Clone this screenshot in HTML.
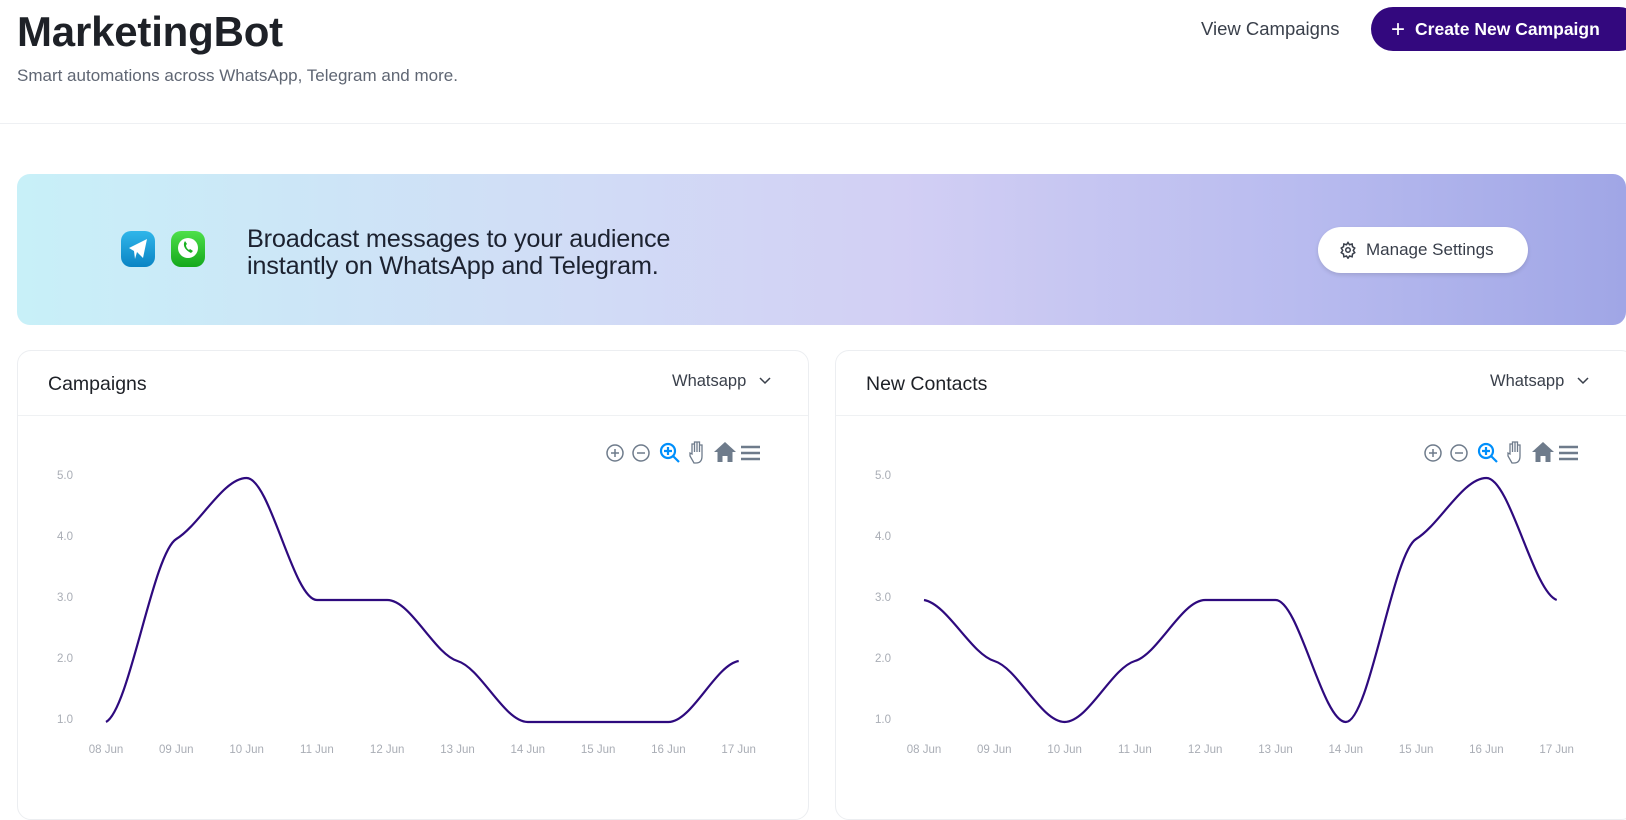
<!DOCTYPE html>
<html><head><meta charset="utf-8">
<style>
*{box-sizing:border-box;margin:0;padding:0}
body{width:1626px;height:801px;overflow:hidden;background:#fff;font-family:"Liberation Sans",sans-serif;position:relative;color:#1f2328}
.abs{position:absolute}
.title{left:17px;top:8px;font-size:42px;font-weight:bold;color:#1e2127;letter-spacing:-0.2px}
.sub{left:17px;top:66px;font-size:17px;color:#5f6673}
.hdr{left:0;top:123px;width:1626px;height:1px;background:#eef0f3}
.view{left:1201px;top:18px;font-size:18.5px;color:#3a404b}
.btn{left:1371px;top:7px;width:270px;height:44px;border-radius:22px;background:#33087e;color:#fff;font-size:17.5px;font-weight:bold;padding-left:20px;line-height:44px}
.banner{left:17px;top:174px;width:1609px;height:151px;border-radius:13px;background:linear-gradient(90deg,#c8f0f8 0%,#d1dcf6 35%,#d2cff4 55%,#b8bbef 80%,#a0a6e6 100%)}
.btext{left:247px;top:226px;font-size:25.3px;line-height:27px;color:#1c2230;letter-spacing:-0.2px}
.ms{left:1318px;top:227px;width:210px;height:46px;border-radius:23px;background:#fff;box-shadow:0 2px 4px rgba(0,0,0,.12);font-size:17px;color:#383e4a;line-height:46px;padding-left:48px}
.card{top:350px;width:792px;height:470px;border:1px solid #eceef1;border-radius:14px;background:#fff}
.card .ct{position:absolute;left:30px;top:22px;font-size:19.5px;color:#1e2127}
.card .dd{position:absolute;left:654px;top:21px;font-size:16.5px;color:#3a404b}
.card .hl{position:absolute;left:0;top:64px;width:100%;height:1px;background:#eff1f3}
</style></head><body>
<div class="abs title">MarketingBot</div>
<div class="abs sub">Smart automations across WhatsApp, Telegram and more.</div>
<div class="abs hdr"></div>
<div class="abs view">View Campaigns</div>
<div class="abs btn"><span style="font-weight:normal;font-size:24px;vertical-align:-2px;margin-right:10px">+</span>Create New Campaign</div>
<div class="abs banner"></div>
<svg class="abs" style="left:119px;top:228px" width="92" height="42">
<defs><linearGradient id="tg" x1="0" y1="0" x2="0" y2="1"><stop offset="0" stop-color="#30b6ea"/><stop offset="1" stop-color="#0a84c4"/></linearGradient>
<linearGradient id="wa" x1="0" y1="0" x2="0" y2="1"><stop offset="0" stop-color="#4ee04a"/><stop offset="1" stop-color="#14a81c"/></linearGradient></defs>
<rect x="2" y="3" width="34" height="36" rx="10" fill="url(#tg)"/>
<path d="M10 20 L28 11 L24 30 L18 24 L16 31 L15 23 Z" fill="#fff"/>
<rect x="52" y="3" width="34" height="36" rx="10" fill="url(#wa)"/>
<circle cx="69" cy="20" r="10" fill="#fff"/>
<path d="M65 15 q-1 6 7 10 l2-2 -3-2 -1 1 q-3-2-3-5 l1-1 -2-3z" fill="#19b020"/>
</svg>
<div class="abs btext">Broadcast messages to your audience<br>instantly on WhatsApp and Telegram.</div>
<div class="abs ms">Manage Settings</div>
<svg class="abs" style="left:1339px;top:241px" width="18" height="18" viewBox="0 0 24 24" fill="none" stroke="#383e4a" stroke-width="2"><circle cx="12" cy="12" r="3"/><path d="M12 2l2 3 3.5-1 .5 3.5 3 2-2 3 2 3-3 2-.5 3.5-3.5-1-2 3-2-3-3.5 1-.5-3.5-3-2 2-3-2-3 3-2 .5-3.5 3.5 1z"/></svg>

<div class="abs card" style="left:17px"><div class="ct">Campaigns</div><div class="dd">Whatsapp</div><div class="hl"></div></div>
<div class="abs card" style="left:835px;width:800px"><div class="ct">New Contacts</div><div class="dd">Whatsapp</div><div class="hl"></div></div>

<svg id="ch" class="abs" style="left:0;top:0" width="1626" height="801"></svg>
<script>
const svg=document.getElementById('ch');
const NS='http://www.w3.org/2000/svg';
function el(t,a,txt){const e=document.createElementNS(NS,t);for(const k in a)e.setAttribute(k,a[k]);if(txt)e.textContent=txt;svg.appendChild(e);return e;}
function spline(xs,ys){const n=xs.length,d=[],m=[];for(let i=0;i<n-1;i++)d.push((ys[i+1]-ys[i])/(xs[i+1]-xs[i]));
m[0]=0.2*d[0];m[n-1]=0.2*d[n-2];for(let i=1;i<n-1;i++){m[i]=(d[i-1]*d[i]<=0)?0:0.35*(d[i-1]+d[i])/2;}
let p='M'+xs[0]+','+ys[0];for(let i=0;i<n-1;i++){const h=(xs[i+1]-xs[i])/3;p+=' C'+(xs[i]+h)+','+(ys[i]+m[i]*h)+' '+(xs[i+1]-h)+','+(ys[i+1]-m[i+1]*h)+' '+xs[i+1]+','+ys[i+1];}return p;}
const days=['08 Jun','09 Jun','10 Jun','11 Jun','12 Jun','13 Jun','14 Jun','15 Jun','16 Jun','17 Jun'];
function chart(ox,data){
 const x0=106+ox,step=70.3;const Y=v=>722-(v-1)*61;
 for(let v=1;v<=5;v++)el('text',{x:ox+73,y:Y(v)+1,'text-anchor':'end','font-size':11.5,fill:'#a9adb5','font-family':'Liberation Sans'},v.toFixed(1));
 days.forEach((d,i)=>el('text',{x:x0+i*step,y:753,'text-anchor':'middle','font-size':11.5,fill:'#a9adb5','font-family':'Liberation Sans'},d));
 const xs=data.map((_,i)=>x0+i*step),ys=data.map(Y);
 el('path',{d:spline(xs,ys),fill:'none',stroke:'#2e0a7e','stroke-width':2.2});
 const ix=ox+607,iy=453,c='#6e7b8b';
 el('path',{d:`M${ox+760} 378l5 5 5-5`,fill:'none',stroke:'#3a404b','stroke-width':1.5});
 el('circle',{cx:ix+8,cy:iy,r:8,fill:'none',stroke:c,'stroke-width':1.5});el('path',{d:`M${ix+4} ${iy}h8M${ix+8} ${iy-4}v8`,stroke:c,'stroke-width':1.5});
 el('circle',{cx:ix+34,cy:iy,r:8,fill:'none',stroke:c,'stroke-width':1.5});el('path',{d:`M${ix+30} ${iy}h8`,stroke:c,'stroke-width':1.5});
 el('circle',{cx:ix+61,cy:iy-2,r:7,fill:'none',stroke:'#008ffb','stroke-width':2.2});el('path',{d:`M${ix+66} ${iy+3}l6 6M${ix+57} ${iy-2}h8M${ix+61} ${iy-6}v8`,stroke:'#008ffb','stroke-width':2.2});
 el('path',{d:`M${ix+87} ${iy+10}l-4-7v-3l2 1v-10h2.5v8v-10h2.5v10v-10h2.5v10v-7h2.5v11q0 7-6 7z`,fill:'none',stroke:c,'stroke-width':1.3});
 el('path',{d:`M${ix+118} ${iy-11}l-11 10h3.5v10h5v-6h5v6h5v-10h3.5z`,fill:c});
 el('path',{d:`M${ix+134} ${iy-6}h19M${ix+134} ${iy}h19M${ix+134} ${iy+6}h19`,stroke:c,'stroke-width':2.5});
}
chart(0,[1,4,5,3,3,2,1,1,1,2]);
chart(818,[3,2,1,2,3,3,1,4,5,3]);
</script>
</body></html>
